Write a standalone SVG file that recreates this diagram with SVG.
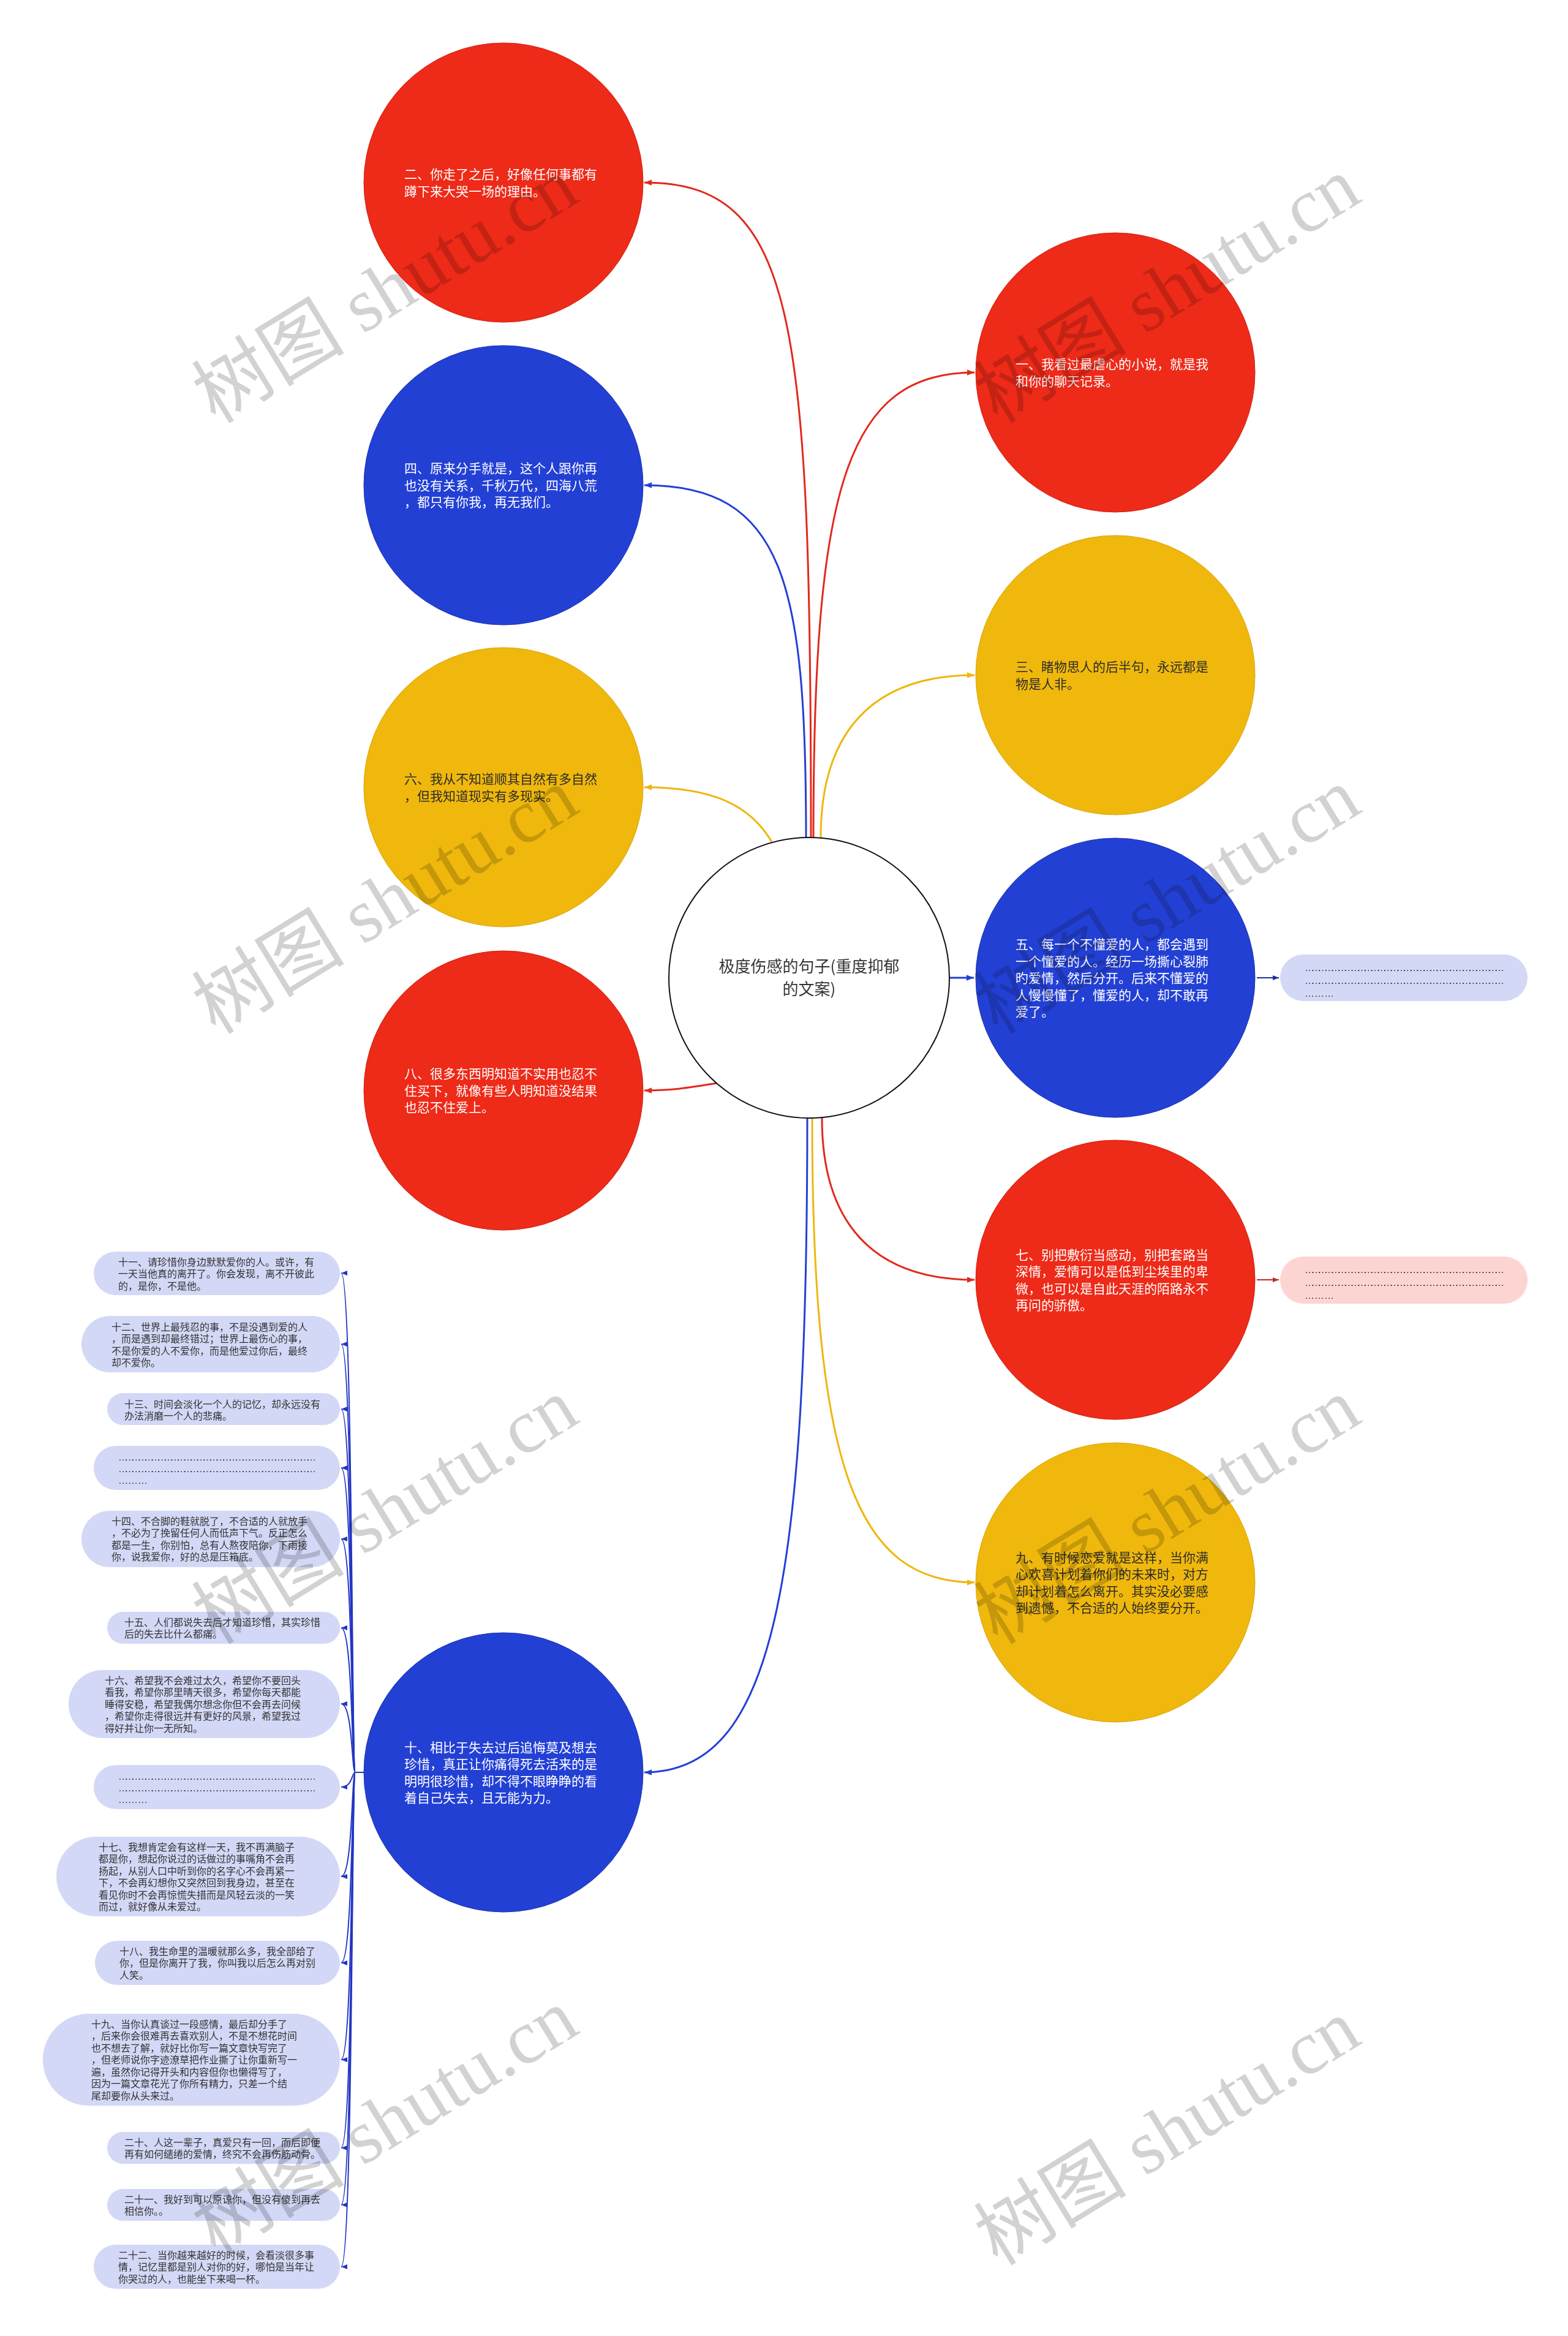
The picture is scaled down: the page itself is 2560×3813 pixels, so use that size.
<svg xmlns="http://www.w3.org/2000/svg" width="2560" height="3813" viewBox="0 0 2560 3813">
<style>
.ct{font-family:"Noto Sans CJK SC","Liberation Sans",sans-serif;font-size:21px}
.w{fill:#ffffff}
.d{fill:#2b2b2b}
.lf{font-family:"Noto Sans CJK SC","Liberation Sans",sans-serif;font-size:16px;fill:#333333}
.dots{font-family:"Liberation Sans",sans-serif;font-size:16px;fill:#333333}
.red{fill:#ee2a18;stroke:#d02416;stroke-width:1}
.blue{fill:#2340d5;stroke:#1c33b0;stroke-width:1}
.yel{fill:#f0b80c;stroke:#d9a40a;stroke-width:1}
.leafb{fill:#d3d8f6}
.leafp{fill:#fcd5d3}
.cr{fill:none;stroke:#e2291b;stroke-width:3}
.cb{fill:none;stroke:#2340d5;stroke-width:3}
.cy{fill:none;stroke:#eeb70d;stroke-width:3}
.cl{fill:none;stroke:#2236c4;stroke-width:2}
.wm{font-family:"Liberation Serif","Noto Sans CJK SC",serif;font-size:125px;fill:#d2d2d2;mix-blend-mode:multiply}
</style>
<defs>
<marker id="ar" viewBox="0 0 10 8" refX="10" refY="4" markerWidth="12" markerHeight="10" markerUnits="userSpaceOnUse" orient="auto"><path d="M0,0 L10,4 L0,8 z" fill="#e2291b"/></marker>
<marker id="ab" viewBox="0 0 10 8" refX="10" refY="4" markerWidth="12" markerHeight="10" markerUnits="userSpaceOnUse" orient="auto"><path d="M0,0 L10,4 L0,8 z" fill="#2340d5"/></marker>
<marker id="ay" viewBox="0 0 10 8" refX="10" refY="4" markerWidth="12" markerHeight="10" markerUnits="userSpaceOnUse" orient="auto"><path d="M0,0 L10,4 L0,8 z" fill="#eeb70d"/></marker>
<marker id="al" viewBox="0 0 10 8" refX="10" refY="4" markerWidth="10" markerHeight="9" markerUnits="userSpaceOnUse" orient="auto"><path d="M0,0 L10,4 L0,8 z" fill="#2236c4"/></marker>
<marker id="ar2" viewBox="0 0 10 8" refX="10" refY="4" markerWidth="10" markerHeight="9" markerUnits="userSpaceOnUse" orient="auto"><path d="M0,0 L10,4 L0,8 z" fill="#c42a22"/></marker>
<marker id="ab2" viewBox="0 0 10 8" refX="10" refY="4" markerWidth="10" markerHeight="9" markerUnits="userSpaceOnUse" orient="auto"><path d="M0,0 L10,4 L0,8 z" fill="#1c2f9e"/></marker>
</defs>
<rect width="2560" height="3813" fill="#ffffff"/>

<g id="connectors">
<path class="cr" d="M1324,1367 C1324,520 1300,298 1052,298" marker-end="url(#ar)"/>
<path class="cb" d="M1316,1367 C1316,950 1280,792 1052,792" marker-end="url(#ab)"/>
<path class="cy" d="M1260,1374 C1225,1315 1165,1285 1052,1285" marker-end="url(#ay)"/>
<path class="cr" d="M1170,1768 C1120,1776 1100,1780 1052,1780" marker-end="url(#ar)"/>
<path class="cb" d="M1318,1825 C1318,2600 1260,2893 1052,2893" marker-end="url(#ab)"/>
<path class="cr" d="M1328,1367 C1328,800 1380,608 1591,608" marker-end="url(#ar)"/>
<path class="cy" d="M1340,1367 C1340,1200 1420,1102 1591,1102" marker-end="url(#ay)"/>
<path class="cb" d="M1551,1596 L1590,1596" marker-end="url(#ab)"/>
<path class="cr" d="M1342,1825 C1342,1990 1420,2089 1591,2089" marker-end="url(#ar)"/>
<path class="cy" d="M1326,1825 C1326,2400 1400,2583 1591,2583" marker-end="url(#ay)"/>
<path d="M2052,1596 L2088,1596" stroke="#1c2f9e" stroke-width="2" fill="none" marker-end="url(#ab2)"/>
<path d="M2052,2089 L2088,2089" stroke="#c42a22" stroke-width="2" fill="none" marker-end="url(#ar2)"/>
<path class="cl" d="M595,2893 H580 C574,2893 576,2078 557,2078" marker-end="url(#al)"/>
<path class="cl" d="M595,2893 H580 C574,2893 576,2194 557,2194" marker-end="url(#al)"/>
<path class="cl" d="M595,2893 H580 C574,2893 576,2300 557,2300" marker-end="url(#al)"/>
<path class="cl" d="M595,2893 H580 C574,2893 576,2396 557,2396" marker-end="url(#al)"/>
<path class="cl" d="M595,2893 H580 C574,2893 576,2512 557,2512" marker-end="url(#al)"/>
<path class="cl" d="M595,2893 H580 C574,2893 576,2657 557,2657" marker-end="url(#al)"/>
<path class="cl" d="M595,2893 H580 C574,2893 576,2781 557,2781" marker-end="url(#al)"/>
<path class="cl" d="M595,2893 H580 C574,2893 576,2917 557,2917" marker-end="url(#al)"/>
<path class="cl" d="M595,2893 H580 C574,2893 576,3063 557,3063" marker-end="url(#al)"/>
<path class="cl" d="M595,2893 H580 C574,2893 576,3204 557,3204" marker-end="url(#al)"/>
<path class="cl" d="M595,2893 H580 C574,2893 576,3362 557,3362" marker-end="url(#al)"/>
<path class="cl" d="M595,2893 H580 C574,2893 576,3506 557,3506" marker-end="url(#al)"/>
<path class="cl" d="M595,2893 H580 C574,2893 576,3599 557,3599" marker-end="url(#al)"/>
<path class="cl" d="M595,2893 H580 C574,2893 576,3700 557,3700" marker-end="url(#al)"/>
</g>

<g id="center">
<circle cx="1321" cy="1596" r="229" fill="#ffffff" stroke="#111111" stroke-width="2"/>
<text font-family="Noto Sans CJK SC, Liberation Sans, sans-serif" font-size="26" fill="#333333" text-anchor="middle"><tspan x="1321" y="1587">极度伤感的句子(重度抑郁</tspan><tspan x="1321" y="1624">的文案)</tspan></text>
</g>

<g id="n2"><circle class="red" cx="822" cy="298" r="228"/>
<text class="ct w"><tspan x="660" y="292">二、你走了之后，好像任何事都有</tspan><tspan x="660" y="320">蹲下来大哭一场的理由。</tspan></text></g>

<g id="n4"><circle class="blue" cx="822" cy="792" r="228"/>
<text class="ct w"><tspan x="660" y="772">四、原来分手就是，这个人跟你再</tspan><tspan x="660" y="800">也没有关系，千秋万代，四海八荒</tspan><tspan x="660" y="827">，都只有你我，再无我们。</tspan></text></g>

<g id="n6"><circle class="yel" cx="822" cy="1285" r="228"/>
<text class="ct d"><tspan x="660" y="1279">六、我从不知道顺其自然有多自然</tspan><tspan x="660" y="1307">，但我知道现实有多现实。</tspan></text></g>

<g id="n8"><circle class="red" cx="822" cy="1780" r="228"/>
<text class="ct w"><tspan x="660" y="1760">八、很多东西明知道不实用也忍不</tspan><tspan x="660" y="1788">住买下，就像有些人明知道没结果</tspan><tspan x="660" y="1815">也忍不住爱上。</tspan></text></g>

<g id="n10"><circle class="blue" cx="822" cy="2893" r="228"/>
<text class="ct w"><tspan x="660" y="2860">十、相比于失去过后追悔莫及想去</tspan><tspan x="660" y="2887">珍惜，真正让你痛得死去活来的是</tspan><tspan x="660" y="2915">明明很珍惜，却不得不眼睁睁的看</tspan><tspan x="660" y="2942">着自己失去，且无能为力。</tspan></text></g>

<g id="n1"><circle class="red" cx="1821" cy="608" r="228"/>
<text class="ct w"><tspan x="1658" y="602">一、我看过最虐心的小说，就是我</tspan><tspan x="1658" y="630">和你的聊天记录。</tspan></text></g>

<g id="n3"><circle class="yel" cx="1821" cy="1102" r="228"/>
<text class="ct d"><tspan x="1658" y="1096">三、睹物思人的后半句，永远都是</tspan><tspan x="1658" y="1124">物是人非。</tspan></text></g>

<g id="n5"><circle class="blue" cx="1821" cy="1596" r="228"/>
<text class="ct w"><tspan x="1658" y="1549">五、每一个不懂爱的人，都会遇到</tspan><tspan x="1658" y="1577">一个懂爱的人。经历一场撕心裂肺</tspan><tspan x="1658" y="1604">旳爱情，然后分开。后来不懂爱的</tspan><tspan x="1658" y="1632">人慢慢懂了，懂爱的人，却不敢再</tspan><tspan x="1658" y="1659">爱了。</tspan></text></g>

<g id="n7"><circle class="red" cx="1821" cy="2089" r="228"/>
<text class="ct w"><tspan x="1658" y="2056">七、别把敷衍当感动，别把套路当</tspan><tspan x="1658" y="2083">深情，爱情可以是低到尘埃里的卑</tspan><tspan x="1658" y="2111">微，也可以是自此天涯的陌路永不</tspan><tspan x="1658" y="2138">再问的骄傲。</tspan></text></g>

<g id="n9"><circle class="yel" cx="1821" cy="2583" r="228"/>
<text class="ct d"><tspan x="1658" y="2550">九、有时候恋爱就是这样，当你满</tspan><tspan x="1658" y="2577">心欢喜计划着你们的未来时，对方</tspan><tspan x="1658" y="2605">却计划着怎么离开。其实没必要感</tspan><tspan x="1658" y="2632">到遗憾，不合适的人始终要分开。</tspan></text></g>

<g id="n5a"><rect class="leafb" x="2090" y="1558" width="404" height="76" rx="38"/>
<text class="dots"><tspan x="2130" y="1585" textLength="326" lengthAdjust="spacing">………………………………………………………………………………</tspan><tspan x="2130" y="1606" textLength="326" lengthAdjust="spacing">………………………………………………………………………………</tspan><tspan x="2130" y="1627">………</tspan></text></g>

<g id="n7a"><rect class="leafp" x="2090" y="2051" width="404" height="77" rx="38"/>
<text class="dots"><tspan x="2130" y="2078" textLength="326" lengthAdjust="spacing">………………………………………………………………………………</tspan><tspan x="2130" y="2099" textLength="326" lengthAdjust="spacing">………………………………………………………………………………</tspan><tspan x="2130" y="2120">………</tspan></text></g>

<g id="n11"><rect class="leafb" x="153" y="2043" width="402" height="71" rx="35.5"/>
<text class="lf"><tspan x="193" y="2066">十一、请珍惜你身边默默爱你的人。或许，有</tspan><tspan x="193" y="2085">一天当他真的离开了。你会发现，离不开彼此</tspan><tspan x="193" y="2105">的，是你，不是他。</tspan></text></g>

<g id="n12"><rect class="leafb" x="133" y="2148" width="422" height="92" rx="46"/>
<text class="lf"><tspan x="182" y="2172">十二、世界上最残忍的事，不是没遇到爱的人</tspan><tspan x="182" y="2191">，而是遇到却最终错过；世界上最伤心的事，</tspan><tspan x="182" y="2211">不是你爱的人不爱你，而是他爱过你后，最终</tspan><tspan x="182" y="2230">却不爱你。</tspan></text></g>

<g id="n13"><rect class="leafb" x="175" y="2274" width="380" height="52" rx="26"/>
<text class="lf"><tspan x="203" y="2298">十三、时间会淡化一个人的记忆，却永远没有</tspan><tspan x="203" y="2317">办法消磨一个人的悲痛。</tspan></text></g>

<g id="n13a"><rect class="leafb" x="153" y="2360" width="402" height="72" rx="36"/>
<text class="dots"><tspan x="193" y="2384" textLength="323" lengthAdjust="spacing">………………………………………………………………………………</tspan><tspan x="193" y="2403" textLength="323" lengthAdjust="spacing">………………………………………………………………………………</tspan><tspan x="193" y="2422">………</tspan></text></g>

<g id="n14"><rect class="leafb" x="133" y="2466" width="422" height="92" rx="46"/>
<text class="lf"><tspan x="182" y="2489">十四、不合脚的鞋就脱了，不合适的人就放手</tspan><tspan x="182" y="2508">，不必为了挽留任何人而低声下气。反正怎么</tspan><tspan x="182" y="2528">都是一生，你别怕，总有人熬夜陪你，下雨接</tspan><tspan x="182" y="2547">你，说我爱你，好的总是压箱底。</tspan></text></g>

<g id="n15"><rect class="leafb" x="175" y="2631" width="380" height="52" rx="26"/>
<text class="lf"><tspan x="203" y="2654">十五、人们都说失去后才知道珍惜，其实珍惜</tspan><tspan x="203" y="2673">后的失去比什么都痛。</tspan></text></g>

<g id="n16"><rect class="leafb" x="112" y="2726" width="443" height="111" rx="55.5"/>
<text class="lf"><tspan x="171" y="2749">十六、希望我不会难过太久，希望你不要回头</tspan><tspan x="171" y="2768">看我，希望你那里晴天很多，希望你每天都能</tspan><tspan x="171" y="2788">睡得安稳，希望我偶尔想念你但不会再去问候</tspan><tspan x="171" y="2807">，希望你走得很远并有更好的风景，希望我过</tspan><tspan x="171" y="2827">得好并让你一无所知。</tspan></text></g>

<g id="n16a"><rect class="leafb" x="153" y="2881" width="402" height="72" rx="36"/>
<text class="dots"><tspan x="193" y="2905" textLength="323" lengthAdjust="spacing">………………………………………………………………………………</tspan><tspan x="193" y="2924" textLength="323" lengthAdjust="spacing">………………………………………………………………………………</tspan><tspan x="193" y="2943">………</tspan></text></g>

<g id="n17"><rect class="leafb" x="92" y="2998" width="463" height="130" rx="65"/>
<text class="lf"><tspan x="161" y="3021">十七、我想肯定会有这样一天，我不再满脑子</tspan><tspan x="161" y="3040">都是你，想起你说过的话做过的事嘴角不会再</tspan><tspan x="161" y="3060">扬起，从别人口中听到你的名字心不会再紧一</tspan><tspan x="161" y="3079">下，不会再幻想你又突然回到我身边，甚至在</tspan><tspan x="161" y="3099">看见你时不会再惊慌失措而是风轻云淡的一笑</tspan><tspan x="161" y="3118">而过，就好像从未爱过。</tspan></text></g>

<g id="n18"><rect class="leafb" x="155" y="3168" width="400" height="72" rx="36"/>
<text class="lf"><tspan x="195" y="3191">十八、我生命里的温暖就那么多，我全部给了</tspan><tspan x="195" y="3210">你，但是你离开了我，你叫我以后怎么再对别</tspan><tspan x="195" y="3230">人笑。</tspan></text></g>

<g id="n19"><rect class="leafb" x="70" y="3287" width="485" height="150" rx="75"/>
<text class="lf"><tspan x="149" y="3310">十九、当你认真谈过一段感情，最后却分手了</tspan><tspan x="149" y="3329">，后来你会很难再去喜欢别人，不是不想花时间</tspan><tspan x="149" y="3349">也不想去了解，就好比你写一篇文章快写完了</tspan><tspan x="149" y="3368">，但老师说你字迹潦草把作业撕了让你重新写一</tspan><tspan x="149" y="3388">遍，虽然你记得开头和内容但你也懒得写了，</tspan><tspan x="149" y="3407">因为一篇文章花光了你所有精力，只差一个结</tspan><tspan x="149" y="3427">尾却要你从头来过。</tspan></text></g>

<g id="n20"><rect class="leafb" x="175" y="3480" width="380" height="52" rx="26"/>
<text class="lf"><tspan x="203" y="3503">二十、人这一辈子，真爱只有一回，而后即便</tspan><tspan x="203" y="3522">再有如何缱绻的爱情，终究不会再伤筋动骨。</tspan></text></g>

<g id="n21"><rect class="leafb" x="175" y="3573" width="380" height="52" rx="26"/>
<text class="lf"><tspan x="203" y="3596">二十一、我好到可以原谅你，但没有傻到再去</tspan><tspan x="203" y="3615">相信你。。</tspan></text></g>

<g id="n22"><rect class="leafb" x="153" y="3664" width="402" height="72" rx="36"/>
<text class="lf"><tspan x="193" y="3687">二十二、当你越来越好的时候，会看淡很多事</tspan><tspan x="193" y="3706">情，记忆里都是别人对你的好，哪怕是当年让</tspan><tspan x="193" y="3726">你哭过的人，也能坐下来喝一杯。</tspan></text></g>

<g id="watermarks">
<text class="wm" x="352" y="693" transform="rotate(-31.5 352 693)">树图 shutu.cn</text>
<text class="wm" x="1629" y="693" transform="rotate(-31.5 1629 693)">树图 shutu.cn</text>
<text class="wm" x="352" y="1690" transform="rotate(-31.5 352 1690)">树图 shutu.cn</text>
<text class="wm" x="1629" y="1690" transform="rotate(-31.5 1629 1690)">树图 shutu.cn</text>
<text class="wm" x="352" y="2686" transform="rotate(-31.5 352 2686)">树图 shutu.cn</text>
<text class="wm" x="1629" y="2686" transform="rotate(-31.5 1629 2686)">树图 shutu.cn</text>
<text class="wm" x="352" y="3683" transform="rotate(-31.5 352 3683)">树图 shutu.cn</text>
<text class="wm" x="1629" y="3700" transform="rotate(-31.5 1629 3700)">树图 shutu.cn</text>
</g>
</svg>
